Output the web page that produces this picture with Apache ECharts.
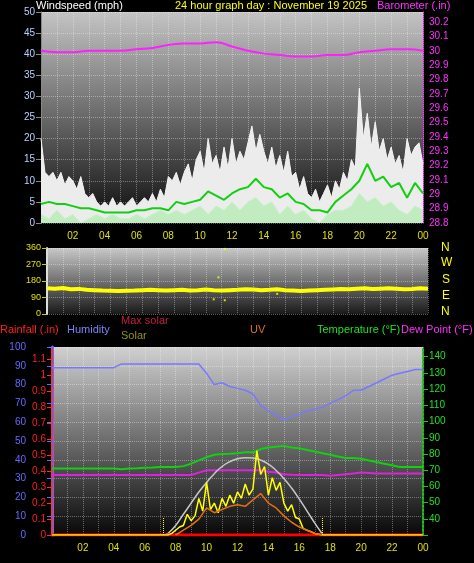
<!DOCTYPE html>
<html>
<head>
<meta charset="utf-8">
<script src="https://cdn.jsdelivr.net/npm/echarts@6/dist/echarts.min.js"></script>
<style>
  html, body { margin: 0; padding: 0; background: #000; }
  #chart { width: 474px; height: 563px; }
</style>
</head>
<body>
<div id="chart"></div>
<script>
// gust every 15 min, 0h..24h
const gust = [20,12,11,12, 10,12,9,11, 10,8,11,7, 6,7,5,4, 5,4,6,4, 5,4,5,6, 4,5,6,5, 7,5,8,6,
  11,10,12,9, 12,14,10,15, 17,12,20,14, 16,12,18,13, 20,14,17,15, 19,23,17,21, 17,14,18,13,
  16,12,17,11, 12,8,11,7, 6,8,5,7, 9,6,10,8, 12,10,15,13, 32,20,26,18, 24,17,20,15, 18,14,16,12,
  20,16,18,19, 14]
// half-hourly series, 0h..24h
const windAvg = [4.5,5,4.5,4.5,4,3.5,3.5,3,2.5,2.5,2.5,2.5,3,3,3.5,3.5,3,5,4.5,5,5.5,7.5,6.5,5.5,
  7,8,8.5,10.5,8.5,8,6,7,5,4.5,3,3,2.5,5,6.5,8,10,14,10,11,8.5,9.5,6,9.5,7]
const windLull = [2,1,3,1,2,0,1,2,1,2,1,1,2,1,2,3,2,3,2,3,4,2,4,3,5,3,5,6,4,5,2,4,2,3,1,0,2,3,3,4,
  7,5,6,4,5,3,2,4,3]
const windDir = [140,138,142,135,137,132,130,128,127,125,127,128,130,132,130,128,130,132,128,130,133,
  130,128,130,132,135,133,130,132,135,130,128,125,128,130,132,134,136,135,138,140,136,138,140,138,
  135,137,140,138]
const dirOutliers = [[10.5, 80], [10.8, 200], [11.2, 355], [11.2, 75], [14.5, 110]]
const humidity = [89,89,89,89,89,89,89,89,89,91,91,91,91,91,91,91,91,91,91,91,86,80,81,79,78,77,75,
  69,66,64,61,63,64,66,67,68,70,72,74,77,77,79,81,83,85,86,87,88,88]
const temperature = [71,71,71,71,71,71,71,71,71,70.5,71,71.2,71.5,71.7,72,72,72,72.5,74,76,78,79.5,80,
  80.2,80.5,81,81,83,84,84.5,85,84,83.5,82.5,81.5,80.5,79.5,78.5,77.5,77.5,77,76,75,74,73,72,72,72,72]
const dewPoint = [67,67,67,67,67,67,67,67,67,67,67,67,67,67,67,67,67,67,67,68.5,70,70,70,70,70,70,70,
  70,69,68.5,67.5,67.2,67,67,67,67,66.5,67,67.5,68,68.5,68.3,68,68,68,68,68,68,68]
// hourly barometer
const barometer = [30.0,29.99,29.99,30.0,30.0,30.0,30.01,30.02,30.04,30.05,30.05,30.06,30.03,30.0,
  29.98,29.97,29.96,29.96,29.97,29.97,29.99,30.0,30.01,30.01,30.0]
const maxSolarHours = [7.3,7.5,8,8.5,9,9.5,10,10.5,11,11.5,12,12.5,13,13.5,14,14.5,15,15.5,16,16.5,17,17.5]
const maxSolar = [0,10,60,130,200,270,330,385,430,460,478,485,483,470,445,405,355,295,225,150,75,5]
const solarHours = [0,7.25,7.5,7.75,8,8.25,8.5,8.75,9,9.25,9.5,9.75,10,10.25,10.5,10.75,11,11.25,11.5,
  11.75,12,12.25,12.5,12.75,13,13.25,13.5,13.75,14,14.25,14.5,14.75,15,15.25,15.5,15.75,16,16.25,
  16.5,16.75,17,17.25,17.5,17.75,24]
const solar = [0,0,0,10,30,50,60,130,90,120,230,150,330,160,200,140,230,180,250,200,270,230,320,250,290,
  530,380,430,250,360,280,330,200,150,190,110,100,40,30,20,10,5,0,0,0]
const uvHours = [8,8.5,9,9.5,10,10.5,11,11.5,12,12.5,13,13.5,14,14.5,15,15.5,16,16.5,17,17.5]
const uv = [0,30,60,100,170,140,160,180,190,180,220,260,200,170,120,80,50,30,10,0]
const rainHours = [0,24]
const rain = [0,0]
const sunrise = 7.2
const sunset = 17.5

const every = (arr, step) => arr.map((v, i) => [i * step, v])
const pair = (hrs, arr) => arr.map((v, i) => [hrs[i], v])

const bg = (a, b) => new echarts.graphic.LinearGradient(0, 0, 0, 1, [
  { offset: 0, color: a }, { offset: 1, color: b }])
const dotted = { show: true, lineStyle: { color: 'rgba(255,255,255,0.35)', type: 'dotted' } }
const fnt = 'Liberation Sans'

function xAx (grid) {
  return {
    type: 'value', gridIndex: grid, min: 0, max: 24, interval: 1,
    axisLine: { show: false }, axisTick: { show: false },
    splitLine: dotted,
    axisLabel: {
      show: grid !== 1, color: '#e0e000', fontSize: 10, fontFamily: fnt, margin: 8,
      formatter: v => (v % 2 === 0 && v > 0) ? String(v % 24).padStart(2, '0') : ''
    }
  }
}

const chart = echarts.init(document.getElementById('chart'))
const option = {
  backgroundColor: '#000',
  animation: false,
  textStyle: { fontFamily: fnt },
  grid: [
    { left: 41, right: 51, top: 12, height: 211, show: true, borderWidth: 0, backgroundColor: bg('#c4c4c4', '#0c0c0c') },
    { left: 47, right: 46, top: 248, height: 66, show: true, borderWidth: 0, backgroundColor: bg('#c8c8c8', '#1a1a1a') },
    { left: 52, right: 51, top: 347, height: 188, show: true, borderWidth: 0, backgroundColor: bg('#d0d0d0', '#080808') }
  ],
  xAxis: [xAx(0), xAx(1), xAx(2)],
  yAxis: [
    { gridIndex: 0, position: 'left', min: 0, max: 50, interval: 5, splitLine: dotted,
      axisLine: { show: true, lineStyle: { color: '#888' } }, axisTick: { show: true, lineStyle: { color: '#888' } },
      axisLabel: { color: '#b8d0ff', fontSize: 10, margin: 6 } },
    { gridIndex: 0, position: 'right', min: 28.8, max: 30.27, interval: 0.1, splitLine: { show: false },
      axisLine: { show: true, lineStyle: { color: '#ff40ff', type: 'dotted' } }, axisTick: { show: false },
      axisLabel: { color: '#ff30ff', fontSize: 10, margin: 6, showMaxLabel: false,
        formatter: v => v > 30.21 ? '' : (Math.abs(v - Math.round(v)) < 0.001 ? String(Math.round(v)) : v.toFixed(1)) } },
    { gridIndex: 1, position: 'left', min: 0, max: 360, interval: 90, splitLine: dotted,
      axisLine: { show: true, lineStyle: { color: '#ddd', width: 2 } }, axisTick: { show: true, lineStyle: { color: '#cc0' } },
      axisLabel: { color: '#e0e000', fontSize: 9, margin: 6 } },
    { gridIndex: 2, position: 'left', min: 0, max: 100, interval: 10, offset: 22, splitLine: dotted,
      axisLine: { show: true, lineStyle: { color: '#6868ff', width: 3 } }, axisTick: { show: true, lineStyle: { color: '#6868ff' } },
      axisLabel: { color: '#6868ff', fontSize: 10, margin: 4 } },
    { gridIndex: 2, position: 'left', min: 0, max: 1.18, interval: 0.1, splitLine: { show: false },
      axisLine: { show: true, lineStyle: { color: '#ff3030', type: 'dotted', width: 2 } }, axisTick: { show: true, lineStyle: { color: '#ff3030' } },
      axisLabel: { color: '#ff2020', fontSize: 10, margin: 6, showMaxLabel: false,
        formatter: v => v > 1.15 ? '' : (v === 0 || Math.abs(v - 1) < 0.001 ? String(Math.round(v)) : v.toFixed(1)) } },
    { gridIndex: 2, position: 'right', min: 30, max: 146, interval: 10, splitLine: { show: false },
      axisLine: { show: true, lineStyle: { color: '#20c020', type: 'dotted', width: 2 } }, axisTick: { show: true, lineStyle: { color: '#20c020' } },
      axisLabel: { color: '#20e020', fontSize: 10, margin: 6, showMaxLabel: false,
        formatter: v => v < 40 || v > 140 ? '' : v } },
    { gridIndex: 2, position: 'right', show: false, min: 0, max: 1180 }
  ],
  series: [
    { type: 'line', xAxisIndex: 0, yAxisIndex: 0, data: every(gust, 0.25), symbol: 'none',
      lineStyle: { color: '#f4f4f4', width: 1 }, areaStyle: { color: '#ececec', opacity: 1 } },
    { type: 'line', xAxisIndex: 0, yAxisIndex: 0, data: every(windLull, 0.5), symbol: 'none',
      lineStyle: { color: '#c8f0c8', width: 1 }, areaStyle: { color: '#c0ecc0', opacity: 1 } },
    { type: 'line', xAxisIndex: 0, yAxisIndex: 0, data: every(windAvg, 0.5), symbol: 'none',
      lineStyle: { color: '#10d010', width: 2 } },
    { type: 'line', xAxisIndex: 0, yAxisIndex: 1, data: every(barometer, 1), symbol: 'none', smooth: true,
      lineStyle: { color: '#ff20ff', width: 2 } },
    { type: 'line', xAxisIndex: 1, yAxisIndex: 2, data: every(windDir, 0.5), symbol: 'none',
      lineStyle: { color: '#ffff00', width: 4 } },
    { type: 'scatter', xAxisIndex: 1, yAxisIndex: 2, data: dirOutliers, symbol: 'rect', symbolSize: 2,
      itemStyle: { color: '#ffff00' } },
    { type: 'line', xAxisIndex: 2, yAxisIndex: 3, data: every(humidity, 0.5), symbol: 'none',
      lineStyle: { color: '#7878ff', width: 1.5 } },
    { type: 'line', xAxisIndex: 2, yAxisIndex: 5, data: every(temperature, 0.5), symbol: 'none',
      lineStyle: { color: '#10d010', width: 2 } },
    { type: 'line', xAxisIndex: 2, yAxisIndex: 5, data: every(dewPoint, 0.5), symbol: 'none',
      lineStyle: { color: '#e020e0', width: 2 } },
    { type: 'line', xAxisIndex: 2, yAxisIndex: 6, data: pair(maxSolarHours, maxSolar), symbol: 'none', smooth: true,
      lineStyle: { color: '#c8c8c8', width: 1.5 } },
    { type: 'line', xAxisIndex: 2, yAxisIndex: 4, data: pair(rainHours, rain), symbol: 'none',
      lineStyle: { color: '#ff0000', width: 3 } },
    { type: 'line', xAxisIndex: 2, yAxisIndex: 6, data: pair(solarHours, solar), symbol: 'none',
      lineStyle: { color: '#ffff00', width: 1.5 },
      markLine: { silent: true, symbol: 'none', label: { show: false },
        lineStyle: { color: '#ffff00', type: 'dotted', width: 1 },
        data: [[{ coord: [sunrise, 0] }, { coord: [sunrise, 110] }], [{ coord: [sunset, 0] }, { coord: [sunset, 110] }]] } },
    { type: 'line', xAxisIndex: 2, yAxisIndex: 6, data: pair(uvHours, uv), symbol: 'none',
      lineStyle: { color: '#e07010', width: 1.5 } }
  ],
  graphic: [
    { type: 'text', left: 36, top: 0, style: { text: 'Windspeed (mph)', fill: '#fff', font: '11px ' + fnt } },
    { type: 'text', left: 175, top: 0, style: { text: '24 hour graph day : November 19 2025', fill: '#ffff00', font: '11px ' + fnt } },
    { type: 'text', left: 377, top: 0, style: { text: 'Barometer (.in)', fill: '#ff30ff', font: '11px ' + fnt } },
    { type: 'text', left: 441, top: 242, style: { text: 'N', fill: '#ffff00', font: '12px ' + fnt } },
    { type: 'text', left: 441, top: 257, style: { text: 'W', fill: '#ffff00', font: '12px ' + fnt } },
    { type: 'text', left: 442, top: 274, style: { text: 'S', fill: '#ffff00', font: '12px ' + fnt } },
    { type: 'text', left: 442, top: 290, style: { text: 'E', fill: '#ffff00', font: '12px ' + fnt } },
    { type: 'text', left: 441, top: 306, style: { text: 'N', fill: '#ffff00', font: '12px ' + fnt } },
    { type: 'text', left: 0, top: 324, style: { text: 'Rainfall (.in)', fill: '#ff2020', font: '11px ' + fnt } },
    { type: 'text', left: 67, top: 324, style: { text: 'Humidity', fill: '#8080ff', font: '11px ' + fnt } },
    { type: 'text', left: 121, top: 315, style: { text: 'Max solar', fill: '#c02040', font: '11px ' + fnt } },
    { type: 'text', left: 121, top: 330, style: { text: 'Solar', fill: '#909020', font: '11px ' + fnt } },
    { type: 'text', left: 250, top: 324, style: { text: 'UV', fill: '#e07020', font: '11px ' + fnt } },
    { type: 'text', left: 317, top: 324, style: { text: 'Temperature (°F)', fill: '#20e020', font: '11px ' + fnt } },
    { type: 'text', left: 401, top: 324, style: { text: 'Dew Point (°F)', fill: '#ff30ff', font: '11px ' + fnt } }
  ]
}
chart.setOption(option)
</script>
</body>
</html>
